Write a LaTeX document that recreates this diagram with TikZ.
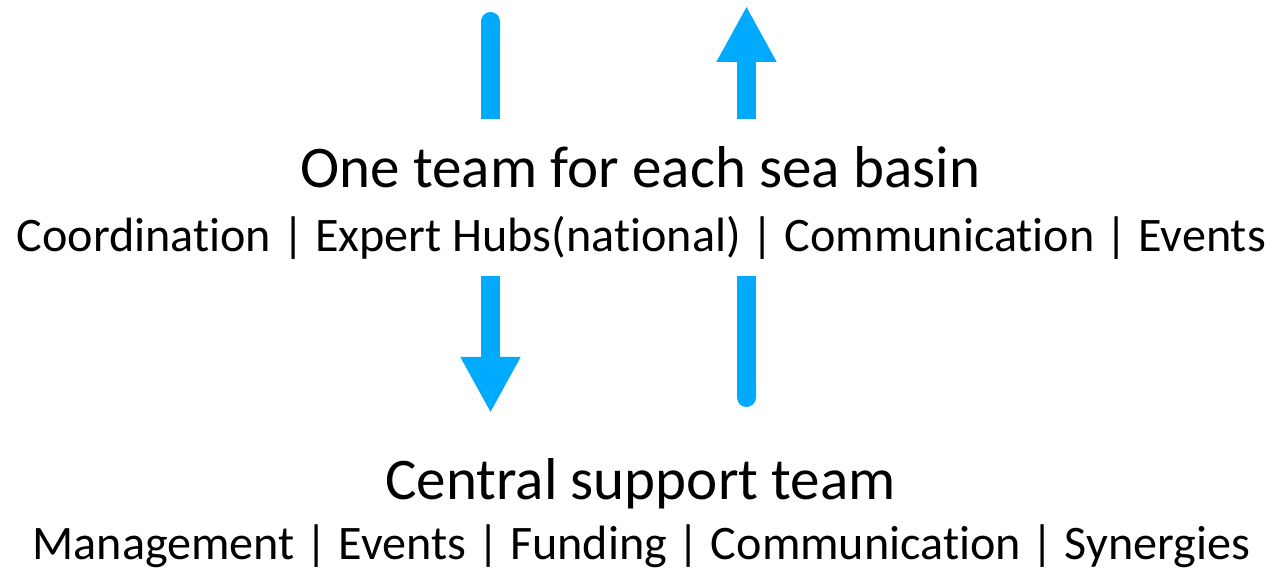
\documentclass[tikz,border=0pt]{standalone}
\usepackage{fontspec}
\setmainfont{Carlito}[Ligatures=NoCommon]
\usetikzlibrary{arrows.meta}
\definecolor{seablue}{RGB}{0,170,255}
\begin{document}
\begin{tikzpicture}[>={Triangle[width=5.6mm,length=5.6mm]}]
    \tikzset{flow/.style={draw=seablue,line width=1.9mm},
      title/.style={anchor=base,inner sep=0pt,font=\fontsize{16.8}{20}\selectfont},
      sub/.style={anchor=base,inner sep=0pt,font=\fontsize{13.7}{16}\selectfont}}
    \useasboundingbox (0,0) rectangle (12.73,5.70);
    \node[title] (basin) at (6.405,3.82) {One team for each sea basin};
    \node[sub] (basinsub) at (6.415,3.18) {Coordination | Expert Hubs(national) | Communication | Events};
    \node[title] (central) at (6.405,0.70) {Central support team};
    \node[sub] (centralsub) at (6.415,0.10) {Management | Events | Funding | Communication | Synergies};
    % arrow ends
    \coordinate (downin) at (4.905,5.58);
    \coordinate (downa) at (4.905,4.51);
    \coordinate (downb) at (4.905,2.94);
    \coordinate (downout) at (4.905,1.57);
    \coordinate (upin) at (7.465,1.63);
    \coordinate (upb) at (7.465,2.94);
    \coordinate (upa) at (7.465,4.51);
    \coordinate (upout) at (7.465,5.64);
    \draw[flow,{Round Cap[]}-] (downin) -- (downa);
    \draw[flow,->] (downb) -- (downout);
    \draw[flow,{Round Cap[]}-] (upin) -- (upb);
    \draw[flow,->] (upa) -- (upout);
\end{tikzpicture}
\end{document}
